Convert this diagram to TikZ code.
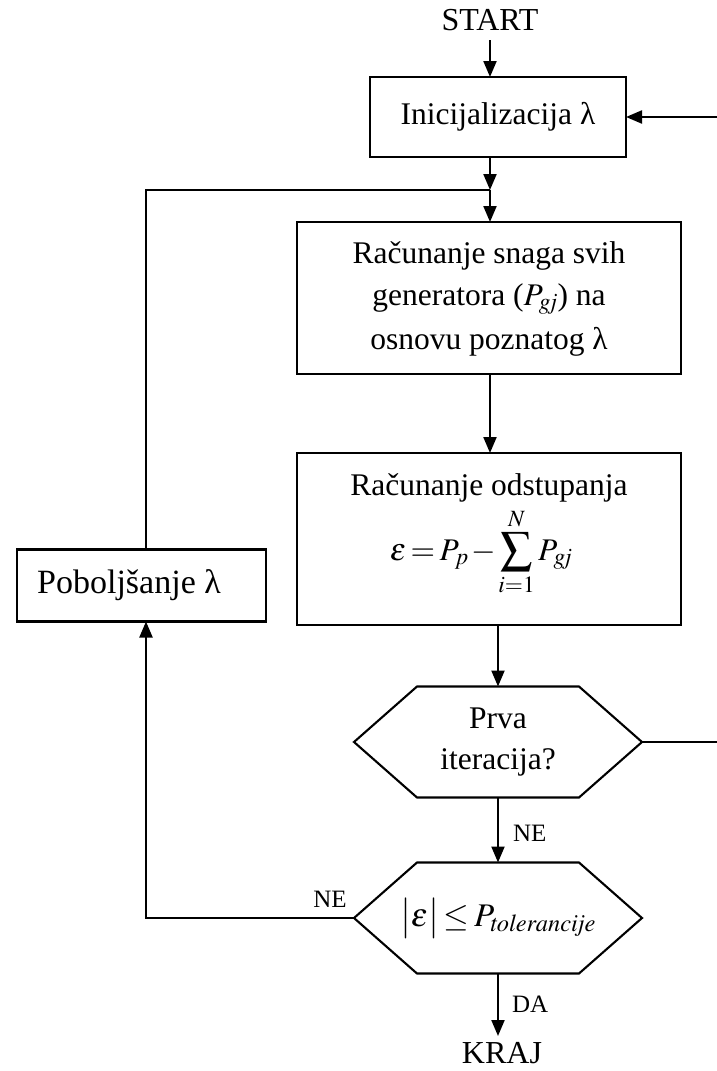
\documentclass[tikz,border=0pt]{standalone}
\usepackage{mathptmx}
\usepackage{fontspec}
\setmainfont{Liberation Serif}
\usetikzlibrary{arrows.meta}

% hexagonal decision outline drawn around a (borderless) node
\newcommand{\hexoutline}[2]{%
  \draw[line] (#1.west) -- ([xshift=#2]#1.north west) -- ([xshift=-#2]#1.north east)
    -- (#1.east) -- ([xshift=-#2]#1.south east) -- ([xshift=#2]#1.south west) -- cycle;}
% tight math spacing for the formulas
\newcommand{\tightmath}{\thickmuskip=2.5mu\medmuskip=1.5mu}

\begin{document}
\begin{tikzpicture}[x=1pt,y=-1pt,
  every node/.style={inner sep=0pt, outer sep=0pt},
  line/.style={line width=2.1pt},
  arr/.style={line, -{Triangle[length=16pt,width=13pt]}},
  big/.style={font=\fontsize{31.5}{43}\selectfont},
  blk/.style={draw, line width=2.1pt, big, align=center},
  dec/.style={big, align=center, minimum width=288pt, minimum height=111pt},
  lbl/.style={font=\fontsize{25}{30}\selectfont},
  term/.style={font=\fontsize{32}{36}\selectfont}
]
\useasboundingbox (0,0) rectangle (717,1071);
\clip (0,0) rectangle (717,1071);

% terminals
\node[term] (start) at (490,20) {START};
\node[term] (kraj) at (502,1053) {KRAJ};

% process boxes
\node[blk, minimum width=256pt, minimum height=80pt] (init) at (498,117) {Inicijalizacija λ};
\node[blk, minimum width=384pt, minimum height=152pt] (gen) at (489,298) {};
\node[big] (gen1) at (489,256) {Računanje snaga svih};
\node[big] (gen2) at (489,299) {generatora ($P_{\mathit{gj}}$) na};
\node[big] (gen3) at (489,342) {osnovu poznatog λ};

\node[blk, minimum width=384pt, minimum height=172pt] (dev) at (489,539) {};
\node[big] (dev1) at (489,488) {Računanje odstupanja};
\node[big] (dev2) at (481,552) {\tightmath$\displaystyle \varepsilon = P_p - \sum_{i=1}^{N} P_{\mathit{gj}}$};

\node[blk, minimum width=249pt, minimum height=72pt] (pob) at (141.5,585.5) {};
\node[font=\fontsize{34}{40}\selectfont] (pobt) at (129,585.5) {Poboljšanje λ};

% decisions
\node[dec] (q1) at (498,742) {Prva\\[-2pt]iteracija?};
\hexoutline{q1}{63pt}
\node[dec] (q2) at (498,918) {\fontsize{33}{40}\selectfont\tightmath$\bigl|\varepsilon\bigr| \le P_{\mathit{tolerancije}}$};
\hexoutline{q2}{63pt}

% routing points
\coordinate (join) at (490,190);
\coordinate (lx) at (146,918);
\coordinate (rx) at (730,742);

% main flow
\draw[arr] (start.south |- 0,40) -- (init.north -| start.south);
\draw[arr] (init.south -| join) -- (join);
\draw[arr] (join) -- (gen.north -| join);
\draw[arr] (gen.south -| join) -- (dev.north -| join);
\draw[arr] (q1.north |- dev.south) -- (q1.north);
\draw[arr] (q1.south) -- (q2.north) node[lbl, midway, right=15pt, yshift=-3pt] (ne1) {NE};
\draw[arr] (q2.south) -- (q2.south |- 0,1036) node[lbl, midway, right=14pt] (da) {DA};

% correction loop
\draw[arr] (q2.west) -- (lx) -- (lx |- pob.south);
\draw[line] (lx |- pob.north) -- (146,190) -- (join);
\node[lbl] (ne2) at (330,899) {NE};

% first iteration returns to initialisation
\draw[arr] (q1.east) -- (rx) |- (init.east);
\end{tikzpicture}
\end{document}
